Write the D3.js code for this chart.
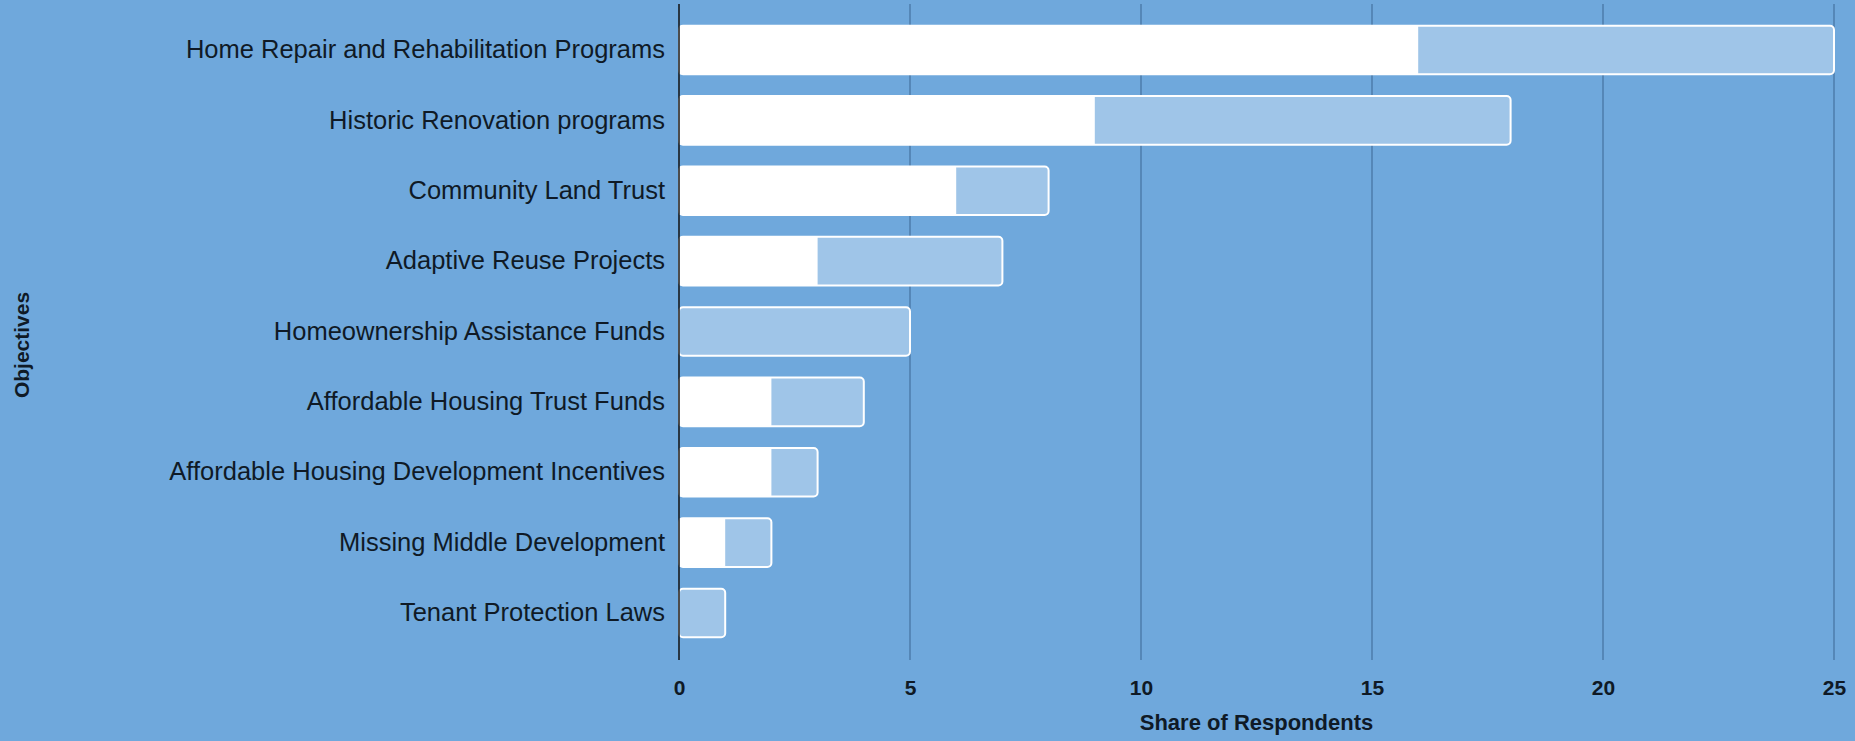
<!DOCTYPE html>
<html>
<head>
<meta charset="utf-8">
<script src="https://cdn.jsdelivr.net/npm/d3@7"></script>
<style>
  html, body { margin: 0; padding: 0; background: #6fa8dc; }
  svg { display: block; }
  text { font-family: "Liberation Sans", Arial, Helvetica, sans-serif; }
</style>
</head>
<body>
<svg id="chart" width="1855" height="741"></svg>
<script>
// Objectives in chart order (top to bottom)
const objectives = [
  "Home Repair and Rehabilitation Programs",
  "Historic Renovation programs",
  "Community Land Trust",
  "Adaptive Reuse Projects",
  "Homeownership Assistance Funds",
  "Affordable Housing Trust Funds",
  "Affordable Housing Development Incentives",
  "Missing Middle Development",
  "Tenant Protection Laws"
];
// Primary responses (white segment)
const primaryValues = [16, 9, 6, 3, 0, 2, 2, 1, 0];
// Total responses (full outlined bar)
const totalValues = [25, 18, 8, 7, 5, 4, 3, 2, 1];
const xTickValues = [0, 5, 10, 15, 20, 25];

const data = objectives.map((name, i) => ({
  name, primary: primaryValues[i], total: totalValues[i]
}));

const svg = d3.select("#chart");
const W = 1855, H = 741;
const plot = { left: 679, right: 1834, top: 4, bottom: 660 };
const textColor = "#0f1a26";

svg.append("rect").attr("width", W).attr("height", H).attr("fill", "#6fa8dc");

const x = d3.scaleLinear().domain([0, 25]).range([plot.left, plot.right]);
const y = d3.scaleBand().domain(objectives)
  .range([14.8, 648.2]).paddingInner(0.31).paddingOuter(0.155);

// Vertical gridlines
svg.append("g").selectAll("line")
  .data(xTickValues.filter(v => v > 0))
  .join("line")
  .attr("x1", d => x(d)).attr("x2", d => x(d))
  .attr("y1", plot.top).attr("y2", plot.bottom)
  .attr("stroke", "#4876a4").attr("stroke-width", 1.3);

// Bars: outlined total with white primary segment
const bars = svg.append("g").selectAll("g").data(data).join("g");
bars.append("rect")
  .attr("x", x(0))
  .attr("y", d => y(d.name))
  .attr("width", d => x(d.total) - x(0))
  .attr("height", y.bandwidth())
  .attr("rx", 4).attr("ry", 4)
  .attr("fill", "#9fc5e8")
  .attr("stroke", "#ffffff").attr("stroke-width", 2);
bars.filter(d => d.primary > 0).append("rect")
  .attr("x", x(0))
  .attr("y", d => y(d.name))
  .attr("width", d => x(d.primary) - x(0))
  .attr("height", y.bandwidth())
  .attr("fill", "#ffffff");

// Zero baseline
svg.append("line")
  .attr("x1", x(0)).attr("x2", x(0))
  .attr("y1", plot.top).attr("y2", plot.bottom)
  .attr("stroke", "#111").attr("stroke-width", 1.5);

// X axis tick labels
const xAxis = d3.axisBottom(x).tickValues(xTickValues).tickSize(0).tickPadding(0);
const gx = svg.append("g").attr("transform", `translate(0, ${plot.bottom})`).call(xAxis);
gx.select(".domain").remove();
gx.selectAll("text")
  .attr("dy", 0).attr("y", 35)
  .attr("fill", textColor)
  .style("font-size", "21px").style("font-weight", "bold")
  .style("font-family", "'Liberation Sans', Arial, sans-serif");

// Y axis category labels
const yAxis = d3.axisLeft(y).tickSize(0).tickPadding(14);
const gy = svg.append("g").attr("transform", `translate(${plot.left}, 0)`).call(yAxis);
gy.select(".domain").remove();
gy.selectAll("text")
  .attr("fill", textColor)
  .style("font-size", "25.5px")
  .style("font-family", "'Liberation Sans', Arial, sans-serif");

// Axis titles
svg.append("text")
  .attr("x", (plot.left + plot.right) / 2).attr("y", 730)
  .attr("text-anchor", "middle")
  .attr("fill", textColor)
  .style("font-size", "22px").style("font-weight", "bold")
  .text("Share of Respondents");

svg.append("text")
  .attr("transform", "translate(29, 345) rotate(-90)")
  .attr("text-anchor", "middle")
  .attr("fill", textColor)
  .style("font-size", "21px").style("font-weight", "bold")
  .text("Objectives");
</script>
</body>
</html>
